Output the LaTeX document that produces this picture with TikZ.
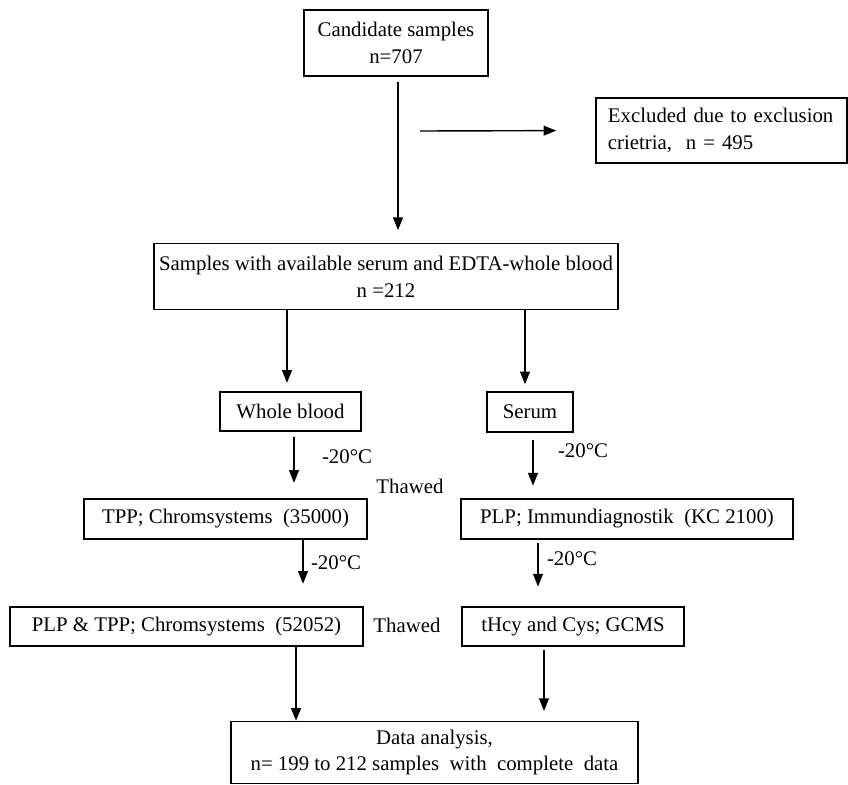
\documentclass[tikz,border=0pt]{standalone}
\usepackage{fontspec}
\setmainfont{Liberation Serif}
\usetikzlibrary{arrows.meta}

\begin{document}
\begin{tikzpicture}[x=0.025cm,y=-0.025cm,font=\fontsize{14.8}{19}\selectfont,line width=1pt,
    box/.style={draw,align=center,inner sep=0pt},
    arr/.style={-{Triangle[length=9pt,width=7pt]}}]
  \useasboundingbox (0,0) rectangle (848,784);
  % boxes
  \node[box,minimum width=4.6cm,minimum height=1.65cm] (cand) at (396,43) {Candidate samples\\n=707};
  \node[box,align=left,text width=5.675cm,inner xsep=0.3cm,minimum height=1.625cm] (excl) at (721.5,130.5)
    {Excluded due to exclusion\\crietria, \ n = 495};
  \node[box,minimum width=11.6cm,minimum height=1.65cm] (samp) at (386,276.5)
    {Samples with available serum and EDTA-whole blood\\n =212};
  \node[box,minimum width=3.525cm,minimum height=0.975cm] (wb) at (290.5,411.5) {Whole blood};
  \node[box,minimum width=2.15cm,minimum height=1cm] (ser) at (530,412) {Serum};
  \node[box,minimum width=7.075cm,minimum height=1cm] (tpp) at (225.5,519) {TPP; Chromsystems \ (35000)};
  \node[box,minimum width=8.3cm,minimum height=1cm] (plp) at (627,519) {PLP; Immundiagnostik \ (KC 2100)};
  \node[box,minimum width=8.825cm,minimum height=0.975cm] (plptpp) at (186.5,626.5) {PLP \& TPP; Chromsystems \ (52052)};
  \node[box,minimum width=5.55cm,minimum height=0.975cm] (thcy) at (573,626.5) {tHcy and Cys; GCMS};
  \node[box,minimum width=10.175cm,minimum height=1.55cm] (data) at (434.5,752.5)
    {Data analysis,\\n= 199 to 212 samples \ with \ complete \ data};
  % labels
  \node (t1) at (347,457) {-20°C};
  \node (t2) at (583,451) {-20°C};
  \node (t3) at (336,563) {-20°C};
  \node (t4) at (572,559) {-20°C};
  \node (th1) at (410,486) {Thawed};
  \node (th2) at (407,625) {Thawed};
  % arrows
  \coordinate (exstart) at (420,131);
  \draw[arr,shorten >=0.975cm] (exstart) -- (excl.west);
  \draw[arr,shorten <=4pt,shorten >=9pt] (cand.south -| 398,0) -- (samp.north -| 398,0);
  \draw[arr,shorten >=6pt] (samp.south -| 287,0) -- (wb.north -| 287,0);
  \draw[arr,shorten >=5pt] (samp.south -| 525,0) -- (ser.north -| 525,0);
  \draw[arr,shorten <=4pt,shorten >=11pt] (wb.south -| 294,0) -- (tpp.north -| 294,0);
  \draw[arr,shorten <=5pt,shorten >=9pt] (ser.south -| 533,0) -- (plp.north -| 533,0);
  \draw[arr,shorten >=16pt] (tpp.south -| 303,0) -- (plptpp.north -| 303,0);
  \draw[arr,shorten <=2pt,shorten >=14pt] (plp.south -| 538,0) -- (thcy.north -| 538,0);
  \draw[arr] (plptpp.south -| 296,0) -- (data.north -| 296,0);
  \draw[arr,shorten <=2pt,shorten >=7pt] (thcy.south -| 544,0) -- (data.north -| 544,0);
\end{tikzpicture}
\end{document}
